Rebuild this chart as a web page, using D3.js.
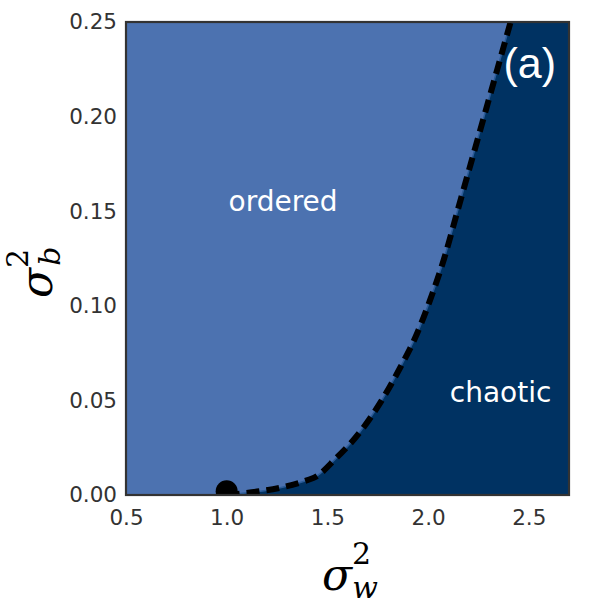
<!DOCTYPE html>
<html><head><meta charset="utf-8">
<script src="https://cdn.jsdelivr.net/npm/d3@7"></script>
<style>body{margin:0;background:#fff}</style>
</head><body>
<script>
const xTicks = [0.5, 1.0, 1.5, 2.0, 2.5];
const yTicks = [0.00, 0.05, 0.10, 0.15, 0.20, 0.25];
const boundaryW = [1.0, 1.43, 1.545, 1.66, 1.77, 1.86, 1.94, 2.01, 2.08, 2.146, 2.212, 2.278, 2.344, 2.41];
const boundaryB = [0.0, 0.009, 0.0196, 0.033, 0.05, 0.067, 0.084, 0.103, 0.125, 0.15, 0.175, 0.20, 0.225, 0.25];
const criticalPoint = [1.0, 0.002];
const regionLabels = [
  {text: "ordered", w: 1.28, b: 0.155},
  {text: "chaotic", w: 2.36, b: 0.054}
];
const panelLabel = "(a)";

const W = 589, H = 614;
const m = {left: 126, top: 22, right: 569, bottom: 495};
const x = d3.scaleLinear().domain([0.5, 2.7]).range([m.left, m.right]);
const y = d3.scaleLinear().domain([0, 0.25]).range([m.bottom, m.top]);

const svg = d3.select("body").append("svg").attr("width", W).attr("height", H);
svg.append("defs").append("clipPath").attr("id", "clip")
  .append("rect").attr("x", m.left).attr("y", m.top)
  .attr("width", m.right - m.left).attr("height", m.bottom - m.top);

const g = svg.append("g").attr("clip-path", "url(#clip)");
// ordered region (background)
g.append("rect").attr("x", m.left).attr("y", m.top)
  .attr("width", m.right - m.left).attr("height", m.bottom - m.top).attr("fill", "#4c72b0");

const pts = boundaryW.map((w, i) => [w, boundaryB[i]]);
const line = d3.line().x(d => x(d[0])).y(d => y(d[1])).curve(d3.curveMonotoneX);
const [wMin, wMax] = x.domain();
const [bMin, bMax] = y.domain();

// chaotic region: right of / below the boundary
g.append("path")
  .attr("d", line(pts) + `L${x(wMax)},${y(bMax)}L${x(wMax)},${y(bMin)}L${x(boundaryW[0])},${y(bMin)}Z`)
  .attr("fill", "#003262");

g.append("path").attr("d", line(pts)).attr("fill", "none")
  .attr("stroke", "#2c5c98").attr("stroke-width", 1.5);
g.append("path").attr("d", line(pts)).attr("fill", "none")
  .attr("stroke", "#000").attr("stroke-width", 6).attr("stroke-dasharray", "13,7");

g.append("circle").attr("cx", x(criticalPoint[0])).attr("cy", y(criticalPoint[1]))
  .attr("r", 11).attr("fill", "#000");

g.selectAll(".rl").data(regionLabels).enter().append("text")
  .attr("x", d => x(d.w)).attr("y", d => y(d.b))
  .attr("text-anchor", "middle").attr("dominant-baseline", "central")
  .attr("font-family", "DejaVu Sans").attr("font-size", 28).attr("fill", "#fff")
  .text(d => d.text);

g.append("text").attr("x", 556).attr("y", 78).attr("text-anchor", "end")
  .attr("font-family", "Liberation Sans").attr("font-size", 43).attr("fill", "#fff")
  .text(panelLabel);

// frame
svg.append("rect").attr("x", m.left).attr("y", m.top)
  .attr("width", m.right - m.left).attr("height", m.bottom - m.top)
  .attr("fill", "none").attr("stroke", "#333").attr("stroke-width", 2.2);

// axes
const xAxis = svg.append("g").attr("transform", `translate(0,${m.bottom})`)
  .call(d3.axisBottom(x).tickValues(xTicks).tickFormat(d3.format(".1f")).tickSize(0).tickPadding(15));
const yAxis = svg.append("g").attr("transform", `translate(${m.left},0)`)
  .call(d3.axisLeft(y).tickValues(yTicks).tickFormat(d3.format(".2f")).tickSize(0).tickPadding(9));
[xAxis, yAxis].forEach(a => {
  a.select(".domain").remove();
  a.selectAll("text").attr("font-family", "DejaVu Sans").attr("font-size", 21.5).attr("fill", "#333");
});

// axis labels
const xl = svg.append("text").attr("x", 322).attr("y", 590)
  .attr("font-family", "DejaVu Serif").attr("font-style", "italic").attr("font-size", 44).attr("fill", "#000");
xl.append("tspan").text("σ");
xl.append("tspan").attr("font-size", 30).attr("dy", -26).attr("font-style", "normal").text("2");
xl.append("tspan").attr("font-size", 30).attr("dx", -19).attr("dy", 34).text("w");

const yl = svg.append("text").attr("transform", "translate(52,298) rotate(-90)")
  .attr("font-family", "DejaVu Serif").attr("font-style", "italic").attr("font-size", 44).attr("fill", "#000");
yl.append("tspan").text("σ");
yl.append("tspan").attr("font-size", 30).attr("dy", -24).attr("font-style", "normal").text("2");
yl.append("tspan").attr("font-size", 30).attr("dx", -17).attr("dy", 32).text("b");
</script>
</body></html>
